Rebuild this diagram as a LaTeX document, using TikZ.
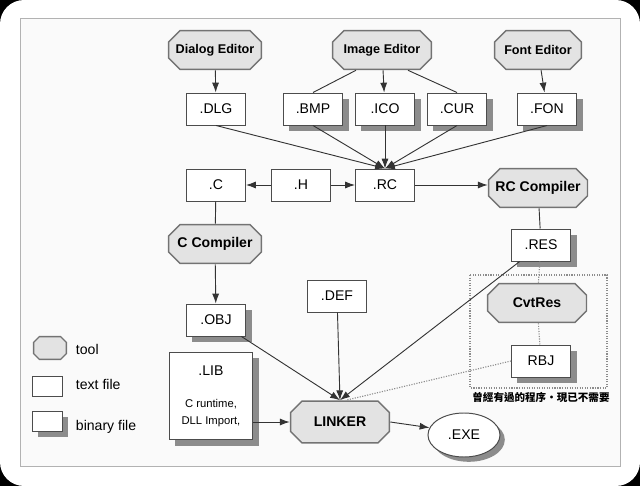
\documentclass[tikz,border=0pt]{standalone}
\usepackage{fontspec}
\setmainfont{Liberation Sans}
\newfontfamily\cjk{Noto Sans CJK TC}
\usepackage{tikz}
\usetikzlibrary{shapes.geometric,shadows,arrows.meta}

\newcommand\octpath[1]{%
  \draw[line width=0.9pt, draw=black!55, fill=black!11]
    ([xshift=#1,yshift=-0.45pt]path picture bounding box.north west)
    -- ([xshift=-#1,yshift=-0.45pt]path picture bounding box.north east)
    -- ([xshift=-0.45pt,yshift=-#1]path picture bounding box.north east)
    -- ([xshift=-0.45pt,yshift=#1]path picture bounding box.south east)
    -- ([xshift=-#1,yshift=0.45pt]path picture bounding box.south east)
    -- ([xshift=#1,yshift=0.45pt]path picture bounding box.south west)
    -- ([xshift=0.45pt,yshift=#1]path picture bounding box.south west)
    -- ([xshift=0.45pt,yshift=-#1]path picture bounding box.north west) -- cycle;}

\begin{document}
\begin{tikzpicture}[x=0.025cm,y=-0.025cm,
  tool/.style={rectangle, path picture={\octpath{#1}}, font=\bfseries, inner sep=0pt,
    minimum width=2.35cm, minimum height=1cm},
  tool/.default=0.3cm,
  txtfile/.style={rectangle, draw=black!70, fill=white, line width=0.7pt, inner sep=0pt,
    minimum width=1.475cm, minimum height=0.8cm, font=\fontsize{10}{12}\selectfont},
  binfile/.style={txtfile, drop shadow={shadow xshift=0.15cm, shadow yshift=-0.15cm, fill=black!45, opacity=1}},
  conn/.style={draw=black!80, line width=0.65pt},
  flow/.style={conn, -{Latex[length=7pt,width=5pt]}},
  gone/.style={draw=black!45, line width=0.8pt, densely dotted}]
\fill[black] (0,0) rectangle (640,486);
\fill[white, rounded corners=0.6cm] (0,0) rectangle (640,486);
\useasboundingbox (0,0) rectangle (640,486);
\draw[black!30, fill=black!2, line width=0.6pt] (20,18) rectangle (620,466);

\node[tool, font=\bfseries\fontsize{9}{11}\selectfont] (ded) at (215,50) {Dialog Editor};
\node[tool, font=\bfseries\fontsize{9}{11}\selectfont, minimum width=2.5cm] (ied) at (382,50) {Image Editor};
\node[tool, font=\bfseries\fontsize{9}{11}\selectfont, minimum width=2.2cm] (fed) at (538,50) {Font Editor};

\node[txtfile] (dlg) at (216,109) {.DLG};
\node[binfile] (bmp) at (313,109) {.BMP};
\node[binfile] (ico) at (385,109) {.ICO};
\node[binfile] (cur) at (457,109) {.CUR};
\node[binfile] (fon) at (547,109) {.FON};

\node[txtfile] (cfile) at (216,185) {.C};
\node[txtfile] (hfile) at (301,185) {.H};
\node[txtfile] (rc) at (385,185) {.RC};
\node[tool, minimum width=2.5cm] (rcc) at (538,188) {RC Compiler};
\node[binfile] (res) at (541,245) {.RES};
\node[tool] (ccomp) at (215,244) {C Compiler};
\node[binfile] (obj) at (216,320) {.OBJ};
\node[txtfile] (def) at (337,296) {.DEF};

\draw[gone] (470,275) rectangle (607,388);
\node[tool, minimum width=2.5cm] (cvt) at (537,303) {CvtRes};
\node[binfile] (rbj) at (541,361) {RBJ};
\node[font=\cjk\bfseries\fontsize{7.5}{9}\selectfont] (note) at (541,397) {曾經有過的程序・現已不需要};

\node[binfile, minimum width=2.075cm, minimum height=2.175cm, align=center] (lib) at (211,396)
  {.LIB\\[11pt]\fontsize{8}{9.5}\selectfont C runtime,\\\fontsize{8}{9.5}\selectfont DLL Import,};
\node[tool, minimum width=2.5cm, minimum height=1.075cm] (linker) at (340,422) {LINKER};
\node[ellipse, draw=black!70, fill=white, line width=0.7pt, minimum width=1.8cm, minimum height=1.1cm,
  drop shadow={shadow xshift=0.12cm, shadow yshift=-0.12cm, fill=black!45, opacity=1}] (exe) at (464,435) {.EXE};

\node[tool=0.16cm, minimum width=0.85cm, minimum height=0.6cm] (lgtool) at (50,348) {};
\node[txtfile, minimum width=0.75cm, minimum height=0.5cm] (lgtxt) at (47,386) {};
\node[binfile, minimum width=0.75cm, minimum height=0.5cm] (lgbin) at (47,421) {};
\node[anchor=west, font=\fontsize{10}{12}\selectfont] at (71,349) {tool};
\node[anchor=west, font=\fontsize{10}{12}\selectfont] at (71,384) {text file};
\node[anchor=west, font=\fontsize{10}{12}\selectfont] at (71,427) {binary file};

\draw[flow] (ded) -- (dlg);
\draw[flow] (ied) -- (ico);
\draw[conn] ([xshift=-0.65cm]ied.south) -- (bmp.north);
\draw[conn] ([xshift=0.65cm]ied.south) -- (cur.north);
\draw[flow] (fed) -- (fon);
\foreach \f in {dlg,bmp,ico,cur,fon}
  \draw[flow] (\f.south) -- (rc.north);
\draw[flow] (hfile) -- (cfile);
\draw[flow] (hfile) -- (rc);
\draw[flow] (rc) -- (rc -| rcc.west);
\draw[conn] (rcc) -- (res);
\draw[conn] (cfile) -- (ccomp);
\draw[flow] (ccomp) -- (obj);
\draw[gone] (res) -- (cvt);
\draw[gone] (cvt) -- (rbj);
\draw[flow] (obj) -- (linker.north);
\draw[flow] (def) -- (linker.north);
\draw[flow] (res) -- (linker.north);
\draw[gone] (rbj.west) -- ([xshift=0.15cm]linker.north);
\draw[flow] (lib.east |- linker.west) -- (linker.west);
\draw[flow] (linker.east) -- (exe.168);
\end{tikzpicture}
\end{document}
